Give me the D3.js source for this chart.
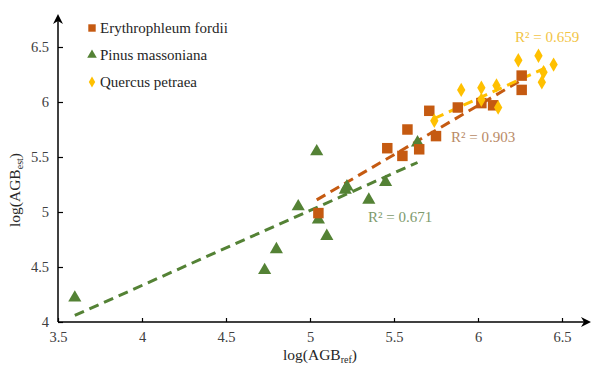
<!DOCTYPE html>
<html><head><meta charset="utf-8">
<script src="https://cdn.jsdelivr.net/npm/d3@7"></script>
<style>body{margin:0;background:#fff}svg, svg text{font-family:"Liberation Serif","Times New Roman",serif !important}</style>
</head><body><svg id="c" width="593" height="369"></svg>
<script>
const seriesNames = ["Erythrophleum fordii", "Pinus massoniana", "Quercus petraea"];
const erythroX = [5.05, 5.46, 5.55, 5.58, 5.65, 5.71, 5.75, 5.88, 6.02, 6.09, 6.26, 6.26];
const erythroY = [4.99, 5.58, 5.51, 5.75, 5.57, 5.92, 5.69, 5.95, 5.99, 5.97, 6.24, 6.11];
const pinusX = [3.60, 4.73, 4.80, 4.93, 5.04, 5.05, 5.10, 5.21, 5.22, 5.35, 5.45, 5.64];
const pinusY = [4.22, 4.47, 4.66, 5.05, 5.55, 4.93, 4.78, 5.20, 5.23, 5.11, 5.27, 5.63];
const quercusX = [5.74, 5.90, 6.02, 6.02, 6.11, 6.12, 6.24, 6.36, 6.39, 6.38, 6.45];
const quercusY = [5.83, 6.11, 6.13, 6.02, 6.15, 5.95, 6.38, 6.42, 6.27, 6.18, 6.34];
const trendX = [[5.04, 6.26], [3.60, 5.64], [5.74, 6.43]];
const trendY = [[5.11, 6.20], [4.06, 5.45], [5.85, 6.33]];
const r2Labels = ["R² = 0.903", "R² = 0.671", "R² = 0.659"];
const xTicks = [3.5, 4, 4.5, 5, 5.5, 6, 6.5];
const yTicks = [4, 4.5, 5, 5.5, 6, 6.5];

const colors = ["#c55a11", "#548235", "#ffc000"];
const labelColors = ["#b98a66", "#7d9a6c", "#f2c444"];
const svg = d3.select("#c");
const x = d3.scaleLinear().domain([3.5, 6.5]).range([58, 562]);
const y = d3.scaleLinear().domain([4, 6.5]).range([322, 47]);

// axes
const xAxis = svg.append("g").attr("transform", "translate(0,322)")
  .call(d3.axisBottom(x).tickValues(xTicks).tickSize(-4).tickPadding(10).tickFormat(d3.format("")));
const yAxis = svg.append("g").attr("transform", "translate(58,0)")
  .call(d3.axisLeft(y).tickValues(yTicks).tickSize(-5).tickPadding(9).tickFormat(d3.format("")));
[xAxis, yAxis].forEach(a => {
  a.attr("font-family", null);
  a.select(".domain").remove();
  a.selectAll(".tick line").attr("stroke", "#000").attr("stroke-width", 1.2);
  a.selectAll(".tick text").attr("font-size", 14.5).attr("fill", "#404040");
});
// axis lines with arrows
svg.append("line").attr("x1", 58).attr("y1", 322).attr("x2", 586).attr("y2", 322).attr("stroke", "#000").attr("stroke-width", 1.5);
svg.append("path").attr("d", "M591,322 L581,317 L584,322 L581,327 Z").attr("fill", "#000");
svg.append("line").attr("x1", 58).attr("y1", 322).attr("x2", 58).attr("y2", 19).attr("stroke", "#000").attr("stroke-width", 1.5);
svg.append("path").attr("d", "M58,14 L53,24 L58,21 L63,24 Z").attr("fill", "#000");

// axis titles
const xt = svg.append("text").attr("x", 320).attr("y", 360).attr("text-anchor", "middle")
  .attr("font-size", 15.5).attr("fill", "#262626");
xt.append("tspan").text("log(AGB");
xt.append("tspan").attr("font-size", 10).attr("dy", 3).text("ref");
xt.append("tspan").attr("dy", -3).text(")");
const yt = svg.append("text").attr("transform", "translate(20,190) rotate(-90)").attr("text-anchor", "middle")
  .attr("font-size", 15.5).attr("fill", "#262626");
yt.append("tspan").text("log(AGB");
yt.append("tspan").attr("font-size", 10).attr("dy", 3).text("est");
yt.append("tspan").attr("dy", -3).text(")");

// trendlines
const line = d3.line().x(d => x(d[0])).y(d => y(d[1]));
const order = [1, 0, 2];
order.forEach(i => {
  svg.append("path").attr("d", line(d3.zip(trendX[i], trendY[i])))
    .attr("stroke", colors[i]).attr("stroke-width", 3).attr("fill", "none")
    .attr("stroke-dasharray", "10,6");
});

// markers
const data = [d3.zip(erythroX, erythroY), d3.zip(pinusX, pinusY), d3.zip(quercusX, quercusY)];
const shapes = [d3.symbolSquare, d3.symbolTriangle, d3.symbolDiamond];
const sizes = [110, 75, 60];
order.forEach(i => {
  svg.append("g").selectAll("path").data(data[i]).join("path")
    .attr("transform", d => `translate(${x(d[0])},${y(d[1])})`)
    .attr("d", d3.symbol().type(shapes[i]).size(sizes[i]))
    .attr("fill", colors[i]);
});

// R² labels
const r2Pos = [[451, 142], [368, 222], [515, 42]];
r2Labels.forEach((t, i) => {
  svg.append("text").attr("x", r2Pos[i][0]).attr("y", r2Pos[i][1]).attr("font-size", 15)
    .attr("fill", labelColors[i]).text(t);
});

// legend
seriesNames.forEach((n, i) => {
  const ly = 28 + i * 27;
  svg.append("path").attr("transform", `translate(92,${ly})`)
    .attr("d", d3.symbol().type(shapes[i]).size([55, 40, 35][i])).attr("fill", colors[i]);
  svg.append("text").attr("x", 100).attr("y", ly + 5).attr("font-size", 15).attr("fill", "#262626").text(n);
});
</script></body></html>
